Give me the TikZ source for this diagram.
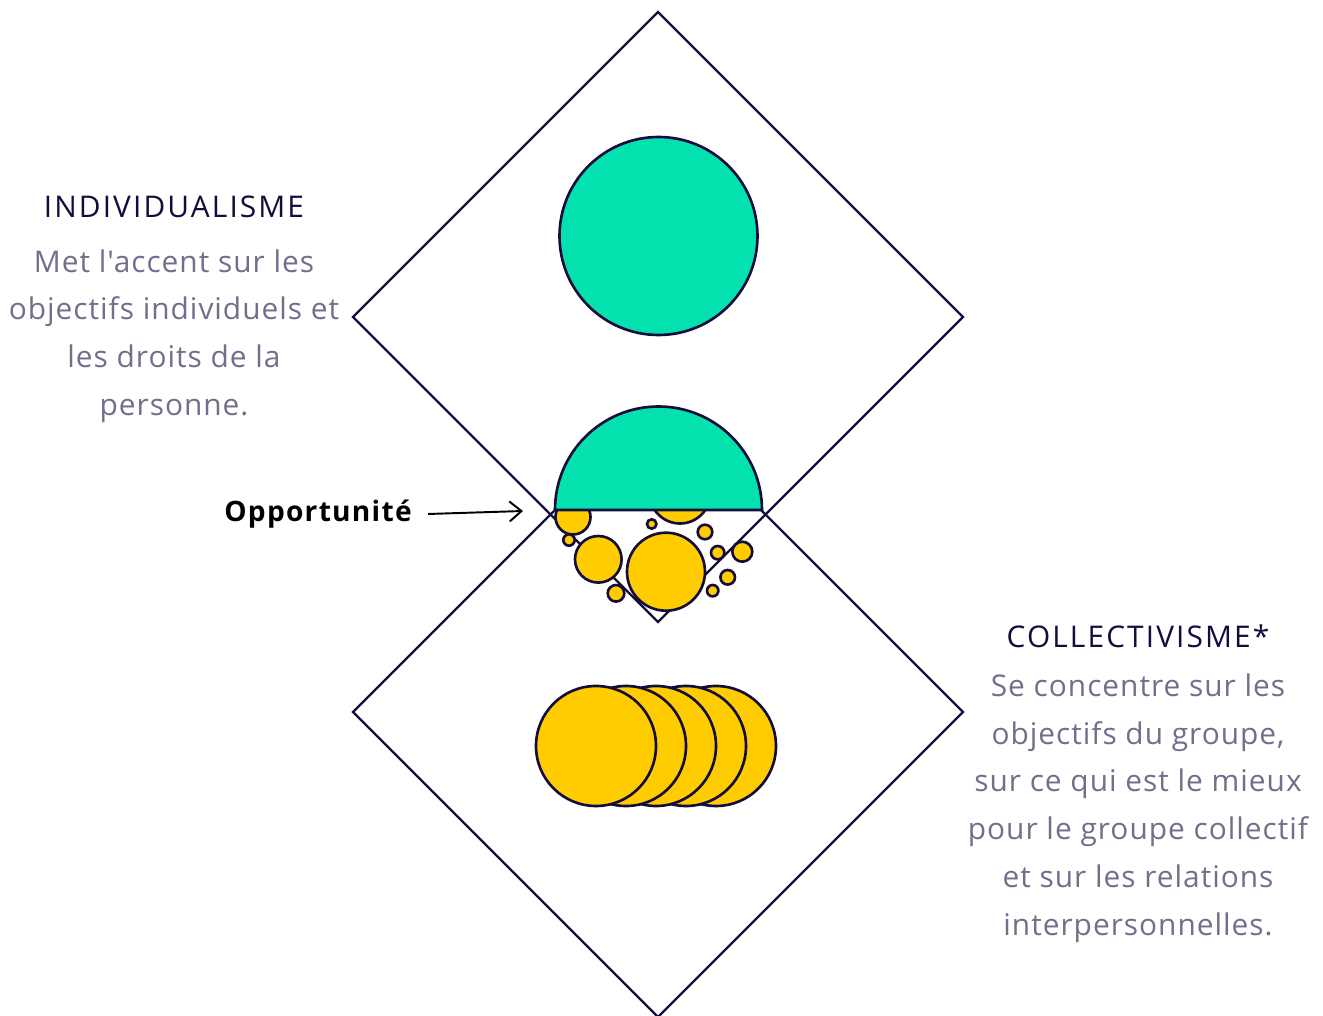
\documentclass[tikz,border=0pt]{standalone}
\usepackage{fontspec}
\setmainfont{Open Sans}
\newfontfamily\headfont[LetterSpace=7]{Open Sans}
\newfontfamily\bodyfont[LetterSpace=3.3]{Open Sans}
\newfontfamily\oppfont[LetterSpace=4.5]{Open Sans}
\usetikzlibrary{positioning,arrows.meta}
\definecolor{navy}{HTML}{140C3C}
\definecolor{mint}{HTML}{03E1AE}
\definecolor{gold}{HTML}{FFCC00}
\definecolor{slate}{HTML}{716F8B}
\tikzset{
  frame/.style ={draw=navy, line width=1.3pt, line join=miter},
  disc/.style  ={draw=navy, line width=1.5pt, fill=gold},
  lobe/.style  ={draw=navy, line width=1.5pt, fill=mint},
  head/.style  ={font=\headfont\fontsize{17}{27}\selectfont, text=navy, inner sep=0pt},
  body/.style  ={font=\bodyfont\fontsize{17}{27.2}\selectfont, text=slate, align=center, inner sep=0pt},
  arr/.style   ={-{Straight Barb[length=2.4mm, width=4mm]}, line width=1.1pt, draw=black},
}
\begin{document}
\begin{tikzpicture}[x=0.02cm, y=-0.02cm]
  \useasboundingbox (0,0) rectangle (1323,1016);

  % two diamonds
  \coordinate (upN) at (658,12);  \coordinate (upE) at (963,317);
  \coordinate (upS) at (658,622); \coordinate (upW) at (353,317);
  \coordinate (loN) at (658,407); \coordinate (loE) at (963,712);
  \coordinate (loS) at (658,1017); \coordinate (loW) at (353,712);
  \draw[frame] (upN) -- (upE) -- (upS) -- (upW) -- cycle;
  \draw[frame] (loN) -- (loE) -- (loS) -- (loW) -- cycle;

  % bubbles in the overlap
  \foreach \cx/\cy/\r in {680/493/30.5, 573/517/17.5, 651.7/524/4.7, 569/540/5.7,
      598.3/559.3/23.3, 666/571.7/39, 705/532/7.3, 717.7/552.7/6.7,
      742.3/551.7/10, 727.7/577.3/7.3, 712.7/590.7/5.7, 616/593.3/8.3}
    \draw[disc] (\cx,\cy) circle[radius=\r];

  % half disc on top
  \draw[lobe] (555,510) arc[start angle=180, end angle=360, radius=103.5] -- cycle;

  % individual
  \draw[lobe] (658.5,236) circle[radius=99];

  % group stack
  \foreach \cx in {716,686,656,626,596}
    \draw[disc] (\cx,746) circle[radius=60];

  % labels
  \node[head] (indTitle) at (174,207) {INDIVIDUALISME};
  \node[body] (indText) at (174,336) {Met l'accent sur les\\objectifs individuels et\\les droits de la\\personne.};
  \node[head] (colTitle) at (1138,636) {COLLECTIVISME*};
  \node[body] (colText) at (1138,808) {Se concentre sur les\\objectifs du groupe,\\sur ce qui est le mieux\\pour le groupe collectif\\et sur les relations\\interpersonnelles.};

  \node[font=\oppfont\fontsize{16}{18}\selectfont\bfseries, inner sep=0pt] (opp) at (318,514) {Opportunité};
  \coordinate (oppTip) at (523,511);
  \draw[arr] ([xshift=0.32cm]opp.east) -- (oppTip);
\end{tikzpicture}
\end{document}
